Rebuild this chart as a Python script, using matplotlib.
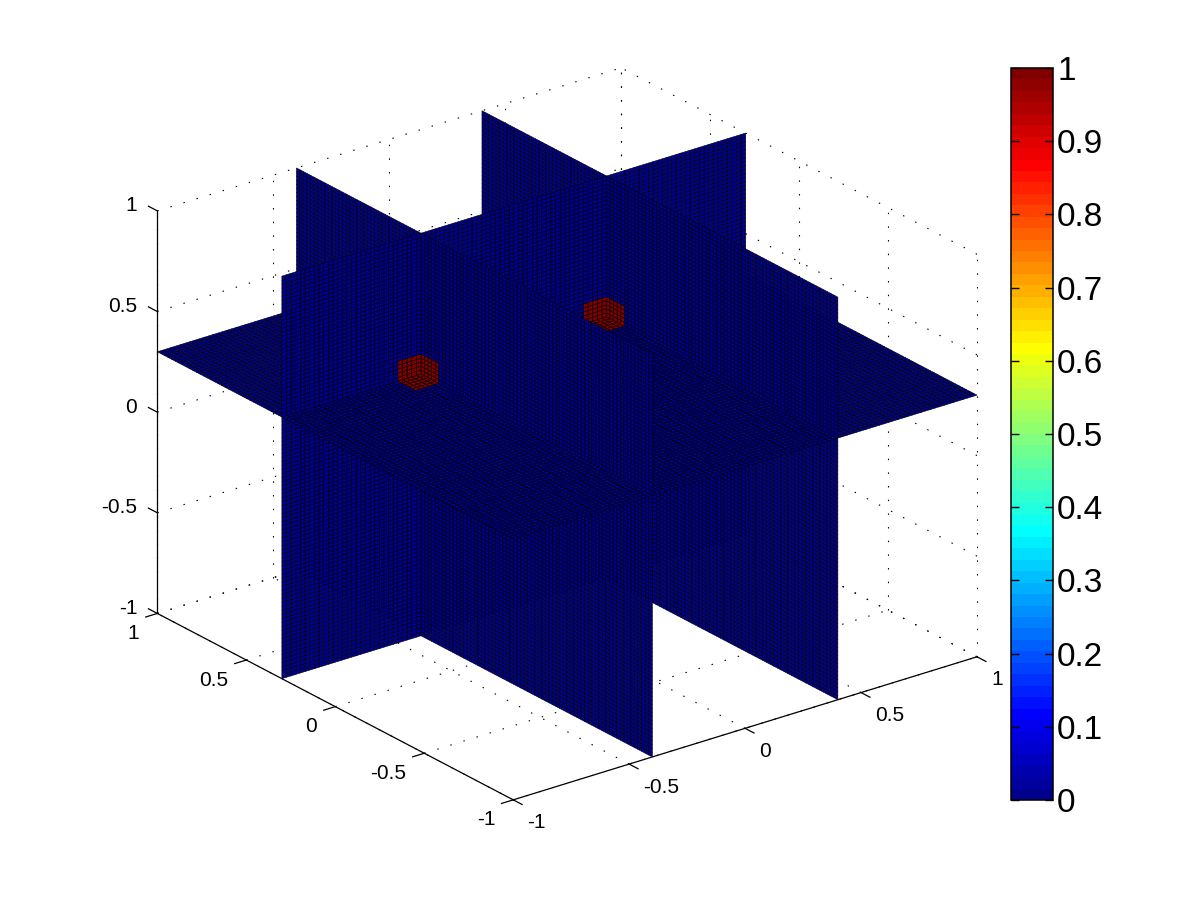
import matplotlib
matplotlib.use('Agg')
import matplotlib.pyplot as plt
import numpy as np
from matplotlib.cm import ScalarMappable
from matplotlib.colors import LinearSegmentedColormap, Normalize
from mpl_toolkits.mplot3d import proj3d
from mpl_toolkits.mplot3d.art3d import Poly3DCollection

plt.rcParams['font.family'] = ['Liberation Sans', 'DejaVu Sans']

# slice planes and the two hot blocks
x_slices = [-0.4, 0.4]
y_slices = [0.3]
z_slices = [0.3]
blob_x = [-0.4, 0.4]
blob_y = [0.3, 0.3]
blob_z = [0.3, 0.3]
blob_half = 0.1
grid_edges = np.linspace(-1, 1, 101)

axis_ticks = [-1, -0.5, 0, 0.5, 1]
axis_labels = ['-1', '-0.5', '0', '0.5', '1']
cbar_ticks = [0, 0.1, 0.2, 0.3, 0.4, 0.5, 0.6, 0.7, 0.8, 0.9, 1]
cbar_labels = ['0', '0.1', '0.2', '0.3', '0.4', '0.5', '0.6', '0.7', '0.8', '0.9', '1']

# old matlab jet, 64 levels
jet_stops = [0, 7 / 63, 23 / 63, 39 / 63, 55 / 63, 1]
jet_colors = [(0, 0, 0.5625), (0, 0, 1), (0, 1, 1), (1, 1, 0), (1, 0, 0), (0.5, 0, 0)]
cmap = LinearSegmentedColormap.from_list('matlab_jet', list(zip(jet_stops, jet_colors)), N=64)
norm = Normalize(0, 1)


def field(x, y, z):
    v = np.zeros(np.broadcast(x, y, z).shape)
    for bx, by, bz in zip(blob_x, blob_y, blob_z):
        inside = (np.abs(x - bx) <= blob_half + 1e-9) & (np.abs(y - by) <= blob_half + 1e-9) & (np.abs(z - bz) <= blob_half + 1e-9)
        v[inside] = 1.0
    return v


def plane_cells(axis, pos):
    a0, b0 = np.meshgrid(grid_edges[:-1], grid_edges[:-1], indexing='ij')
    a1, b1 = np.meshgrid(grid_edges[1:], grid_edges[1:], indexing='ij')
    quad_a = np.stack([a0, a1, a1, a0], axis=-1).reshape(-1, 4)
    quad_b = np.stack([b0, b0, b1, b1], axis=-1).reshape(-1, 4)
    quad_c = np.full(quad_a.shape, pos)
    if axis == 'x':
        verts = np.stack([quad_c, quad_a, quad_b], axis=-1)
    elif axis == 'y':
        verts = np.stack([quad_a, quad_c, quad_b], axis=-1)
    else:
        verts = np.stack([quad_a, quad_b, quad_c], axis=-1)
    mid = verts.mean(axis=1)
    return verts, field(mid[:, 0], mid[:, 1], mid[:, 2])


fig = plt.figure(figsize=(12, 9), dpi=100)
ax = fig.add_axes([105 / 1200, 4 / 900, 900 / 1200, 900 / 900], projection='3d', proj_type='ortho')
ax.view_init(elev=23.7, azim=-127.5)
ax.set_xlim(-1, 1)
ax.set_ylim(-1, 1)
ax.set_zlim(-1, 1)
ax.set_box_aspect((1, 1, 0.752), zoom=1.01)
ax.set_axis_off()
ax.computed_zorder = False

# walls: dotted grid behind the slices
grid_style = dict(color='black', lw=0.8, ls=(0, (1.3, 11)), zorder=1)
for t in axis_ticks:
    ax.plot([t, t], [-1, 1], [-1, -1], **grid_style)
    ax.plot([-1, 1], [t, t], [-1, -1], **grid_style)
    ax.plot([t, t], [1, 1], [-1, 1], **grid_style)
    ax.plot([-1, 1], [1, 1], [t, t], **grid_style)
    ax.plot([1, 1], [t, t], [-1, 1], **grid_style)
    ax.plot([1, 1], [-1, 1], [t, t], **grid_style)

# solid axes and ticks
line_style = dict(color='black', lw=0.9, zorder=1.5)
ax.plot([-1, 1], [-1, -1], [-1, -1], **line_style)
ax.plot([-1, -1], [-1, 1], [-1, -1], **line_style)
ax.plot([-1, -1], [1, 1], [-1, 1], **line_style)
for t in axis_ticks:
    ax.plot([t, t], [-1, -1.05], [-1, -1], **line_style)
    ax.plot([-1, -1.05], [t, t], [-1, -1], **line_style)
    ax.plot([-1, -1], [1, 1.05], [t, t], **line_style)

verts = []
vals = []
for axis, positions in (('x', x_slices), ('y', y_slices), ('z', z_slices)):
    for pos in positions:
        v, c = plane_cells(axis, pos)
        verts.append(v)
        vals.append(c)
verts = np.concatenate(verts)
vals = np.concatenate(vals)
polys = Poly3DCollection(verts, facecolors=cmap(norm(vals)), edgecolors='black', linewidths=0.4,
                         antialiaseds=True, zorder=2)
ax.add_collection3d(polys)


def tick_text(x, y, z, label, dx, dy, ha):
    xp, yp, _ = proj3d.proj_transform(x, y, z, ax.get_proj())
    ax.annotate(label, (xp, yp), xytext=(dx, -dy), textcoords='offset pixels', ha=ha, va='center',
                fontsize=15, color='black', annotation_clip=False)


for t, label in zip(axis_ticks, axis_labels):
    tick_text(t, -1, -1, label, 14, 23, 'left')
    tick_text(-1, t, -1, label, -18, 20, 'right')
    tick_text(-1, 1, t, label, -20, -5, 'right')

cax = fig.add_axes([1011 / 1200, 100 / 900, 42 / 1200, 732 / 900])
cb = fig.colorbar(ScalarMappable(norm=norm, cmap=cmap), cax=cax)
cb.set_ticks(cbar_ticks)
cb.set_ticklabels(cbar_labels)
cb.ax.tick_params(direction='in', length=6, width=1.0, left=True, right=True, labelsize=24, pad=3)
cb.outline.set_linewidth(1.1)

plt.savefig('out.png', dpi=100)
